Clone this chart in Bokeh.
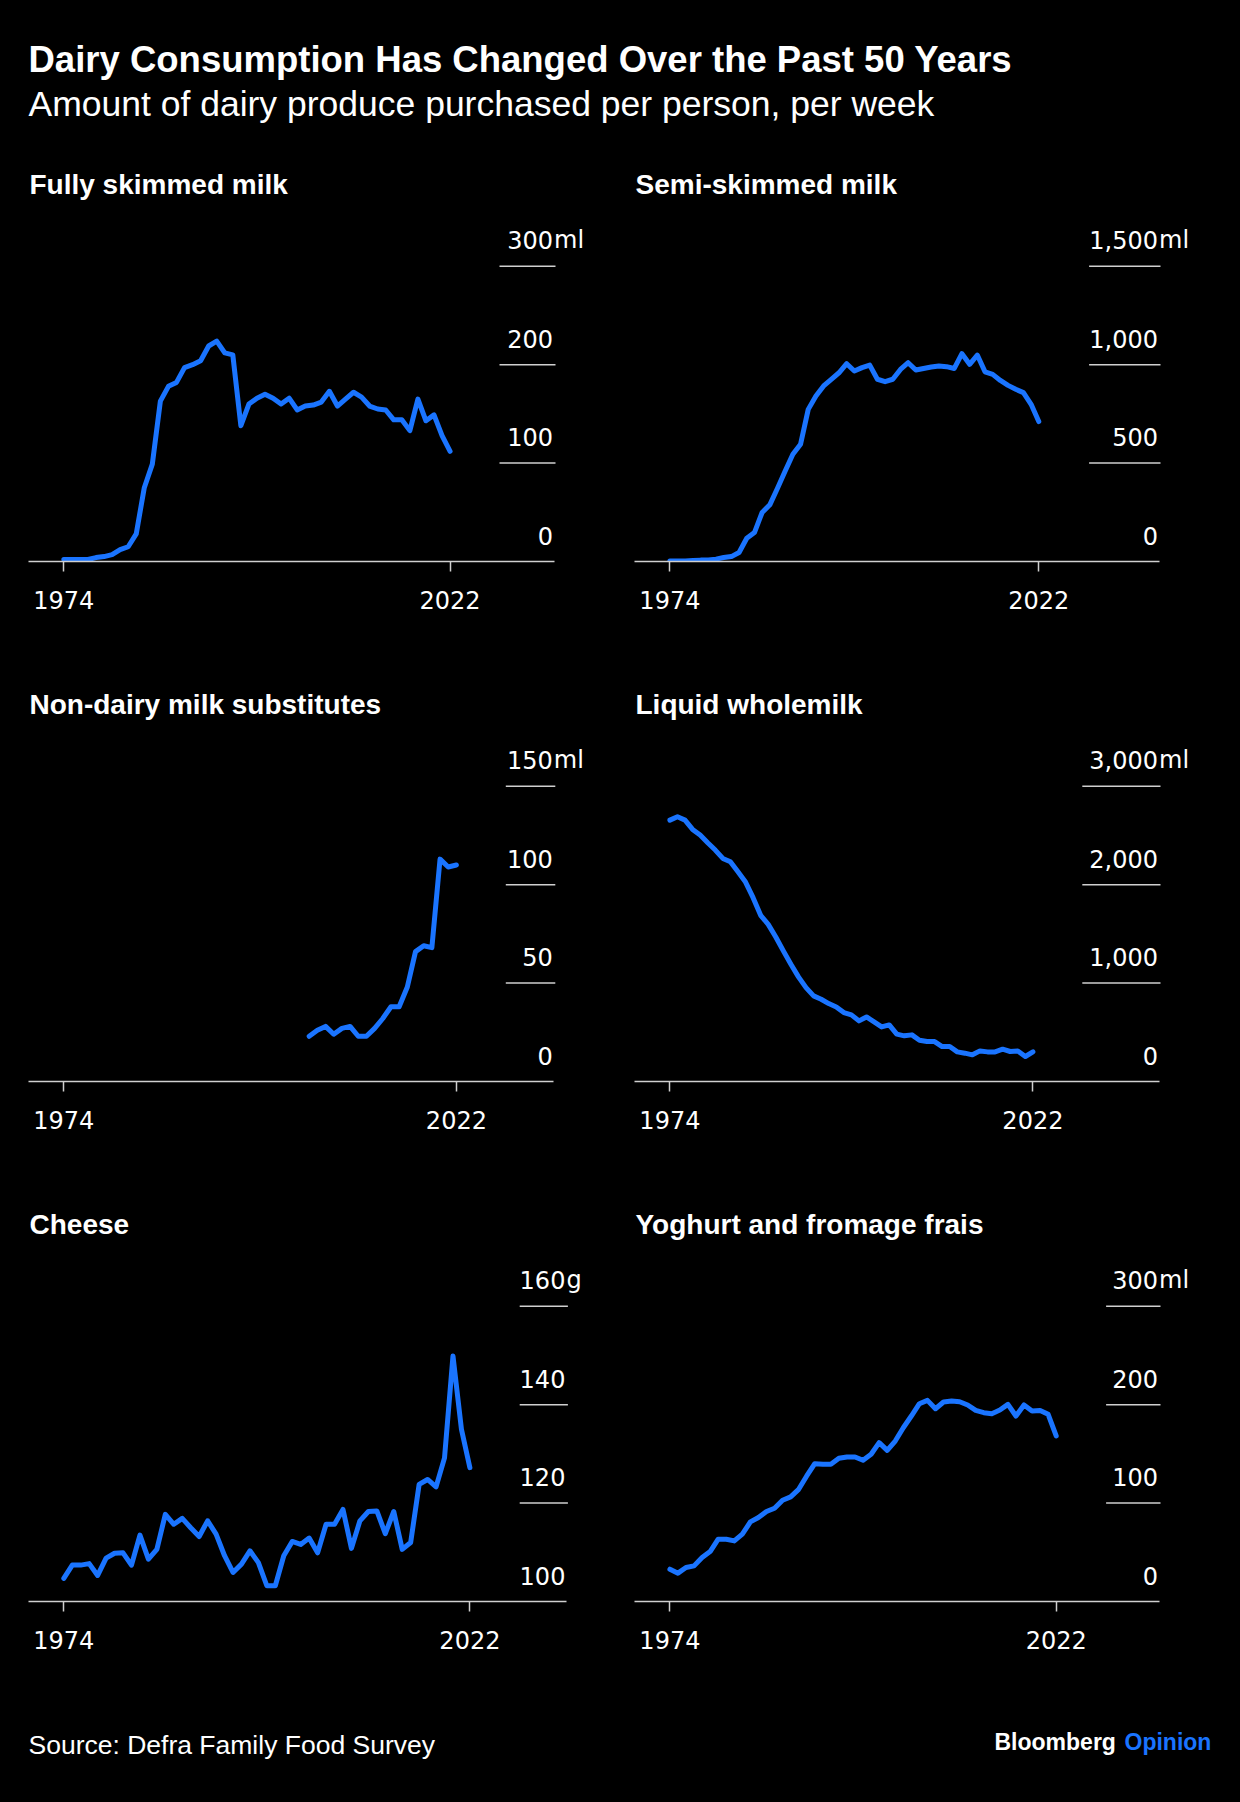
from bokeh.plotting import figure
from bokeh.layouts import column, row
from bokeh.models import Range1d, FixedTicker, GlobalInlineStyleSheet
from bokeh.core.properties import value
from bokeh.embed import file_html
from bokeh.resources import INLINE

# ---------------- data ----------------
YEARS = list(range(1974, 2023))

FULLY_SKIMMED = [2, 2, 2, 2, 4, 5, 7, 12, 15, 28,
                 75, 99, 163, 178, 182, 197, 200, 204, 219, 224,
                 212, 210, 138, 160, 166, 170, 166, 160, 166, 154,
                 158, 159, 162, 173, 158, 165, 172, 167, 158, 155,
                 154, 144, 144, 133, 165, 143, 149, 128, 112]

SEMI_SKIMMED = [3, 3, 3, 5, 7, 8, 12, 20, 25, 46,
                118, 147, 249, 288, 372, 460, 545, 596, 773, 841,
                892, 926, 959, 1005, 968, 985, 998, 926, 914, 926,
                976, 1010, 973, 981, 988, 993, 990, 981, 1056, 1002,
                1049, 964, 951, 920, 895, 875, 858, 799, 711]

NONDAIRY_YEARS = list(range(2004, 2023))
NONDAIRY = [23, 26, 28, 24, 27, 28, 23, 23, 27, 32,
            38, 38, 48, 66, 69, 68, 113, 109, 110]

WHOLEMILK = [2656, 2690, 2656, 2562, 2504, 2426, 2352, 2267, 2233, 2132,
             2027, 1868, 1689, 1597, 1469, 1327, 1191, 1063, 954, 870,
             836, 792, 758, 700, 677, 616, 656, 606, 555, 575,
             481, 464, 474, 420, 406, 406, 355, 355, 301, 288,
             271, 311, 301, 301, 328, 305, 311, 254, 301]

CHEESE = [104.7, 107.4, 107.4, 107.7, 105.3, 108.8, 109.8, 109.9, 107.4, 113.5,
          108.6, 110.6, 117.7, 115.7, 116.9, 115.0, 113.2, 116.4, 113.7, 109.3,
          105.9, 107.6, 110.3, 107.9, 103.2, 103.2, 109.3, 112.2, 111.6, 112.9,
          109.9, 115.7, 115.7, 118.7, 110.8, 116.4, 118.3, 118.4, 113.8, 118.3,
          110.6, 112.0, 123.8, 124.8, 123.3, 129.2, 149.9, 135.0, 127.2]

YOGHURT = [32.8, 28.8, 34.5, 36.2, 44.7, 50.8, 63.3, 63.3, 61.6, 68.4,
           80.9, 85.3, 91.4, 94.8, 102.9, 106.3, 114.0, 127.6, 140.1, 139.4,
           139.4, 145.5, 146.9, 146.9, 143.5, 149.6, 161.4, 153.6, 163.1, 176.6,
           188.5, 201.0, 204.4, 195.9, 202.7, 203.7, 203.0, 199.7, 194.2, 191.9,
           190.9, 194.6, 200.3, 188.5, 199.7, 193.6, 194.2, 190.2, 168.2]

X_TICKS = [1974, 2022]
FULLY_TICKS = [0, 100, 200, 300]
SEMI_TICKS = [0, 500, 1000, 1500]
NONDAIRY_TICKS = [0, 50, 100, 150]
WHOLE_TICKS = [0, 1000, 2000, 3000]
CHEESE_TICKS = [100, 120, 140, 160]
YOGHURT_TICKS = [0, 100, 200, 300]

TITLE = "Dairy Consumption Has Changed Over the Past 50 Years"
SUBTITLE = "Amount of dairy produce purchased per person, per week"
SOURCE = "Source: Defra Family Food Survey"

# ---------------- style ----------------
BG = "#000000"
BLUE = "#1a74ff"
GREY = "#cfcfcf"
FONT = "Liberation Sans"
TICK_FONT = "DejaVu Sans"

PAGE_W = 1240
HEAD_H = 130
ROW_H = 520
FOOT_H = 112
FIG_W = [614, 626]
FIG_LEFT = [0, 614]
BORDER_L = [28, 20]
BORDER_R = [14, 25]
BORDER_B = 89
FRAME_H = ROW_H - BORDER_B
PX_STEP = 98.4          # pixels between gridlines
TITLE_BASE = 54         # panel title baseline from top of panel
LABEL_RAISE = 26

# layout geometry for each panel (page pixels): x of 1974, x of 2022, gridline start/end
panels = [
    dict(title="Fully skimmed milk", x=YEARS, y=FULLY_SKIMMED, ticks=FULLY_TICKS, unit="ml",
         col=0, x74=63.3, x22=449.6, g0=499.0, g1=555.0),
    dict(title="Semi-skimmed milk", x=YEARS, y=SEMI_SKIMMED, ticks=SEMI_TICKS, unit="ml",
         col=1, x74=669.4, x22=1038.3, g0=1088.6, g1=1160.0),
    dict(title="Non-dairy milk substitutes", x=NONDAIRY_YEARS, y=NONDAIRY, ticks=NONDAIRY_TICKS, unit="ml",
         col=0, x74=63.3, x22=455.9, g0=505.3, g1=554.8),
    dict(title="Liquid wholemilk", x=YEARS, y=WHOLEMILK, ticks=WHOLE_TICKS, unit="ml",
         col=1, x74=669.4, x22=1032.4, g0=1081.8, g1=1160.0),
    dict(title="Cheese", x=YEARS, y=CHEESE, ticks=CHEESE_TICKS, unit="g",
         col=0, x74=63.3, x22=469.4, g0=519.2, g1=567.4),
    dict(title="Yoghurt and fromage frais", x=YEARS, y=YOGHURT, ticks=YOGHURT_TICKS, unit="ml",
         col=1, x74=669.4, x22=1055.7, g0=1105.6, g1=1160.0),
]


def make_panel(spec):
    col = spec["col"]
    fw = FIG_W[col] - BORDER_L[col] - BORDER_R[col]
    frame_left = FIG_LEFT[col] + BORDER_L[col]
    ppy = (spec["x22"] - spec["x74"]) / (X_TICKS[1] - X_TICKS[0])
    xs = X_TICKS[0] - (spec["x74"] - frame_left) / ppy
    xe = xs + fw / ppy
    ticks = spec["ticks"]
    step = ticks[1] - ticks[0]
    upp = step / PX_STEP
    y0 = ticks[0]
    ye = y0 + FRAME_H * upp

    def px2x(px_page):
        return xs + (px_page - frame_left) / ppy

    def py2y(py_local):
        return ye - py_local * upp

    p = figure(width=FIG_W[col], height=ROW_H, title=None,
               x_range=Range1d(xs, xe), y_range=Range1d(y0, ye),
               output_backend="svg", toolbar_location=None, y_axis_location=None,
               min_border_left=BORDER_L[col], min_border_right=BORDER_R[col],
               min_border_top=0, min_border_bottom=BORDER_B,
               background_fill_color=BG, border_fill_color=BG, outline_line_color=None)
    p.grid.visible = False

    ax = p.xaxis[0]
    ax.ticker = FixedTicker(ticks=X_TICKS)
    ax.bounds = (xs, px2x(spec["g1"] - 1.5))
    ax.axis_line_color = GREY
    ax.axis_line_width = 1.5
    ax.major_tick_line_color = GREY
    ax.major_tick_line_width = 1.5
    ax.major_tick_in = 0
    ax.major_tick_out = 10
    ax.minor_tick_line_color = None
    ax.major_label_text_color = "white"
    ax.major_label_text_font = TICK_FONT
    ax.major_label_text_font_size = "24px"
    ax.major_label_standoff = 19

    # short gridlines at the right
    gt = ticks[1:]
    p.segment(x0=[px2x(spec["g0"])] * len(gt), x1=[px2x(spec["g1"])] * len(gt),
              y0=gt, y1=gt, line_color=GREY, line_width=1.5)

    # tick labels
    labels = ["{:,}".format(t) for t in ticks]
    p.text(x=[px2x(spec["g1"] - 2.5)] * len(ticks), y=ticks, text=labels,
           text_align="right", text_baseline="alphabetic", y_offset=-LABEL_RAISE,
           text_color="white", text_font=value(TICK_FONT), text_font_size="24px")
    p.text(x=[px2x(spec["g1"] - 1.5)], y=[ticks[-1]], text=[spec["unit"]],
           text_align="left", text_baseline="alphabetic", y_offset=-LABEL_RAISE,
           text_color="white", text_font=value(TICK_FONT), text_font_size="24px")

    # panel title
    p.text(x=[px2x(frame_left + 1)], y=[py2y(TITLE_BASE)], text=[spec["title"]],
           text_align="left", text_baseline="alphabetic",
           text_color="white", text_font=value(FONT), text_font_size="28px",
           text_font_style="bold")

    p.line(spec["x"], spec["y"], line_color=BLUE, line_width=5,
           line_join="round", line_cap="round")
    return p


def blank(width, height):
    f = figure(width=width, height=height, title=None,
               x_range=Range1d(0, width), y_range=Range1d(0, height),
               output_backend="svg", toolbar_location=None,
               x_axis_location=None, y_axis_location=None,
               min_border=0, background_fill_color=BG, border_fill_color=BG,
               outline_line_color=None)
    f.grid.visible = False
    return f


header = blank(PAGE_W, HEAD_H)
header.text(x=[28], y=[HEAD_H - 59], text=[TITLE], text_align="left", text_baseline="alphabetic",
            text_color="white", text_font=value(FONT), text_font_size="36.5px", text_font_style="bold")
header.text(x=[28], y=[HEAD_H - 103], text=[SUBTITLE], text_align="left", text_baseline="alphabetic",
            text_color="white", text_font=value(FONT), text_font_size="35.5px")

footer = blank(PAGE_W, FOOT_H)
footer.text(x=[28], y=[FOOT_H - 54], text=[SOURCE], text_align="left", text_baseline="alphabetic",
            text_color="white", text_font=value(FONT), text_font_size="26.5px")
footer.text(x=[994], y=[FOOT_H - 51], text=["Bloomberg"], text_align="left", text_baseline="alphabetic",
            text_color="white", text_font=value(FONT), text_font_size="23px", text_font_style="bold")
footer.text(x=[1124], y=[FOOT_H - 51], text=["Opinion"], text_align="left", text_baseline="alphabetic",
            text_color=BLUE, text_font=value(FONT), text_font_size="23px", text_font_style="bold")

figs = [make_panel(s) for s in panels]
layout = column(header,
                row(figs[0], figs[1]),
                row(figs[2], figs[3]),
                row(figs[4], figs[5]),
                footer)
layout.stylesheets = [GlobalInlineStyleSheet(
    css="html, body { background-color: #000000; margin: 0; padding: 0; overflow: hidden; }")]

open("out.html", "w").write(file_html(layout, INLINE))
